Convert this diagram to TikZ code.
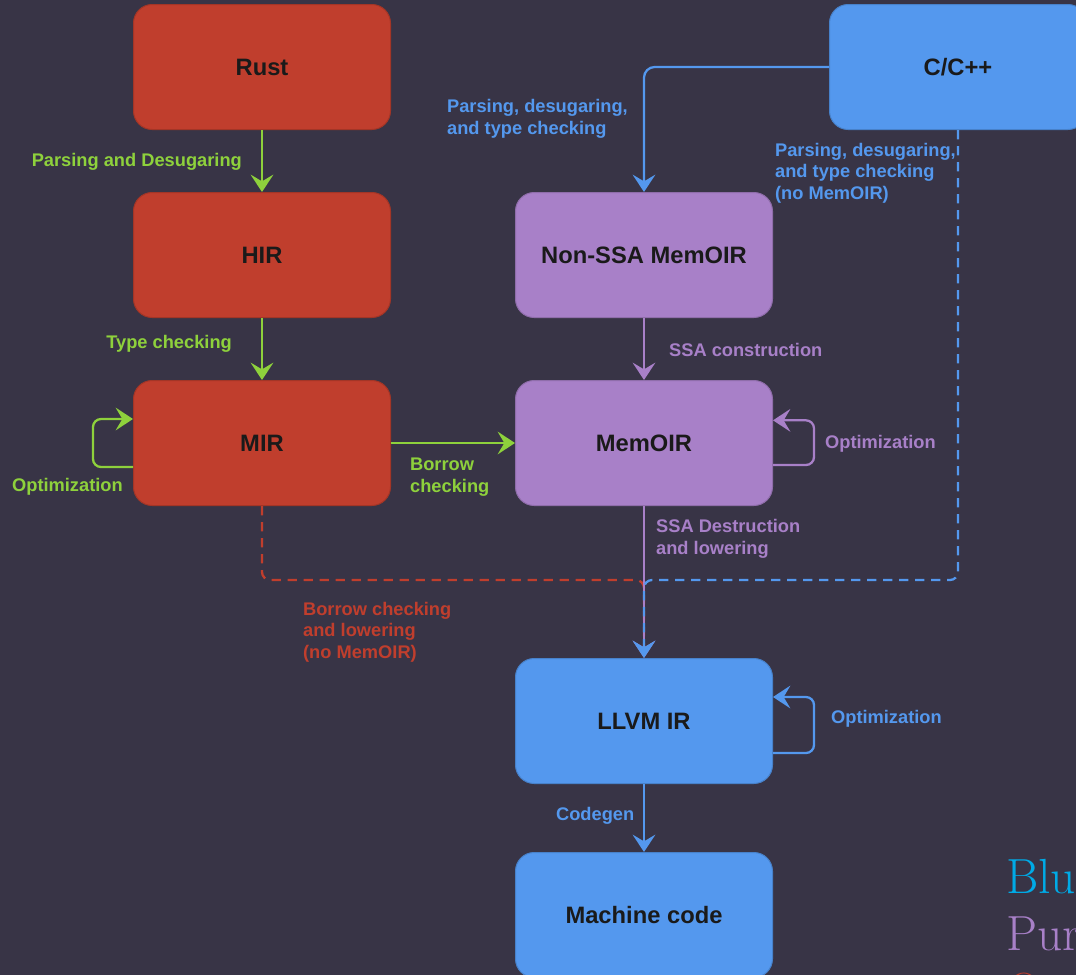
\documentclass[tikz,border=0pt]{standalone}
\usepackage{fontspec}
\newfontfamily\diafont{Liberation Sans}
\usetikzlibrary{arrows.meta}

\definecolor{bgcol}{RGB}{56,52,70}
\definecolor{rustred}{RGB}{192,62,45}
\definecolor{memopurple}{RGB}{168,128,200}
\definecolor{llvmblue}{RGB}{84,152,238}
\definecolor{stepgreen}{RGB}{142,209,60}
\definecolor{legendblue}{RGB}{0,170,230}
\definecolor{boxtext}{RGB}{26,26,26}

\tikzset{every picture/.style={line width=1.7pt}}
\tikzset{
  stage/.style={rectangle, rounded corners=14pt, minimum width=192.75pt, minimum height=93.75pt,
    inner sep=0pt, line width=0.75pt, text=boxtext, font=\diafont\bfseries\fontsize{17.8}{21}\selectfont},
  rustbox/.style={stage, fill=rustred, draw=rustred!85!black},
  memobox/.style={stage, fill=memopurple, draw=memopurple!85!black},
  llvmbox/.style={stage, fill=llvmblue, draw=llvmblue!85!black},
  lbl/.style={inner sep=0pt, align=left, font=\diafont\bfseries\fontsize{13.7}{16.2}\selectfont},
  tip/.style={-{Stealth[length=13pt,width=17pt,inset=5pt]}},
  garrow/.style={tip, draw=stepgreen},
  parrow/.style={tip, draw=memopurple},
  barrow/.style={tip, draw=llvmblue},
  dashline/.style={dash pattern=on 7pt off 5pt, rounded corners=6pt}
}

\begin{document}
\begin{tikzpicture}[x=0.75pt,y=0.75pt,yscale=-1]
    \fill[bgcol] (0,0) rectangle (1076,975);
    \useasboundingbox (0,0) rectangle (1076,975);
    \clip (0,0) rectangle (1076,975);
    \node[rustbox] (rust) at (262,67) {Rust};
    \node[rustbox] (hir) at (262,255) {HIR};
    \node[rustbox] (mir) at (262,443) {MIR};
    \node[memobox] (nonssa) at (644,255) {Non-SSA MemOIR};
    \node[memobox] (memoir) at (644,443) {MemOIR};
    \node[llvmbox] (cpp) at (958,67) {C/C++};
    \node[llvmbox] (llvm) at (644,721) {LLVM IR};
    \node[llvmbox] (mcode) at (644,915) {Machine code};
    \coordinate (merge) at (644,580);
    \draw[garrow] (rust) -- (hir);
    \draw[garrow] (hir) -- (mir);
    \draw[garrow] (mir) -- (memoir);
    \draw[garrow, rounded corners=6pt] ([yshift=18pt]mir.west) -- ++(-40,0) |- ([yshift=-18pt]mir.west);
    \draw[barrow, rounded corners=8pt] (cpp.west) -| (nonssa.north);
    \draw[parrow] (nonssa) -- (memoir);
    \draw[parrow, rounded corners=6pt] ([yshift=16.5pt]memoir.east) -- ++(41,0) |- ([yshift=-17pt]memoir.east);
    \draw[rustred, dashline] (mir.south) |- (merge) -- (llvm.north);
    \draw[parrow, line width=1.3pt] (memoir) -- (llvm);
    \draw[barrow, dashline] (cpp.south) |- (merge) -- (llvm.north);
    \draw[barrow, rounded corners=6pt] ([yshift=24pt]llvm.east) -- ++(41,0) |- ([yshift=-18pt]llvm.east);
    \draw[barrow] (llvm) -- (mcode);
    \node[lbl, text=stepgreen, anchor=east] (lparse) at (243,162) {Parsing and Desugaring};
    \node[lbl, text=stepgreen, anchor=east] (ltype) at (233,344) {Type checking};
    \node[lbl, text=stepgreen, anchor=west] (lmiropt) at (11,487) {Optimization};
    \node[lbl, text=stepgreen, anchor=west] (lborrow) at (409,477) {Borrow\\checking};
    \node[lbl, text=llvmblue, anchor=west] (lcparse) at (446,119) {Parsing, desugaring,\\and type checking};
    \node[lbl, text=llvmblue, anchor=west] (lcdirect) at (774,173) {Parsing, desugaring,\\and type checking\\(no MemOIR)};
    \node[lbl, text=memopurple, anchor=west] (lssa) at (668,350) {SSA construction};
    \node[lbl, text=memopurple, anchor=west] (lmemopt) at (824,444) {Optimization};
    \node[lbl, text=memopurple, anchor=west] (ldestruct) at (655,539) {SSA Destruction\\and lowering};
    \node[lbl, text=rustred, anchor=west] (lrdirect) at (302,632) {Borrow checking\\and lowering\\(no MemOIR)};
    \node[lbl, text=llvmblue, anchor=west] (lllvmopt) at (830,719) {Optimization};
    \node[lbl, text=llvmblue, anchor=west] (lcodegen) at (555,816) {Codegen};
    \node[anchor=base west, inner sep=0pt, text=legendblue, font=\rmfamily\fontsize{37}{43}\selectfont] (legblu) at (1005,893) {Blu};
    \node[anchor=base west, inner sep=0pt, text=memopurple, font=\rmfamily\fontsize{37}{43}\selectfont] (legpur) at (1005,950) {Pur};
    \node[anchor=base west, inner sep=0pt, text=rustred, font=\rmfamily\fontsize{37}{43}\selectfont] (legora) at (1005,1007) {O};
\end{tikzpicture}
\end{document}
